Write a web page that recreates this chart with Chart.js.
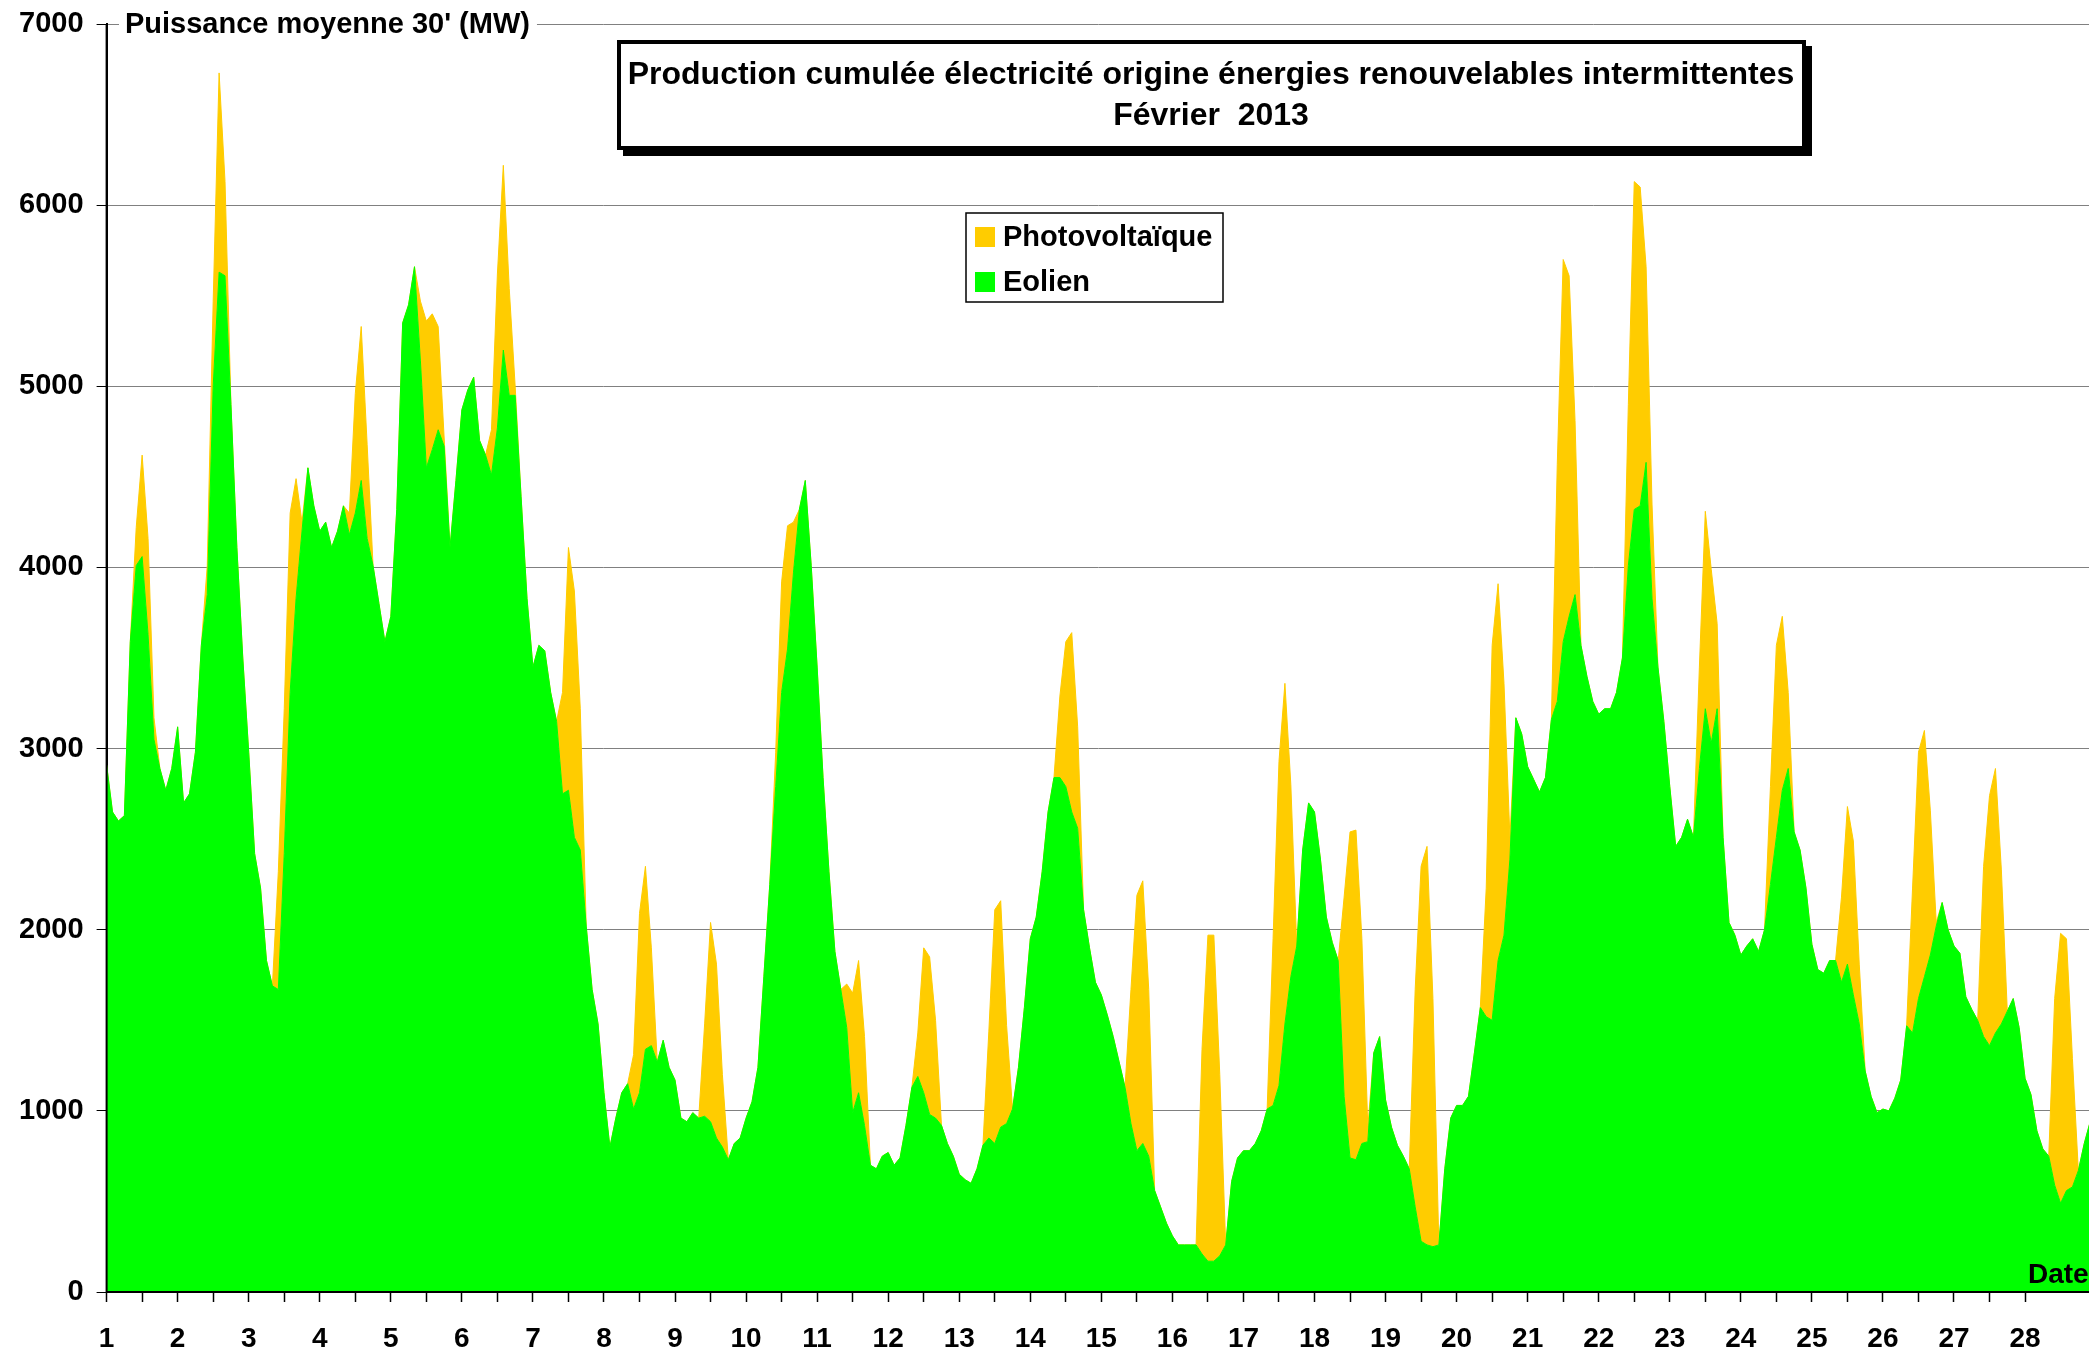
<!DOCTYPE html>
<html>
<head>
<meta charset="utf-8">
<title>Production cumulée électricité - Février 2013</title>
<script src="https://cdn.jsdelivr.net/npm/chart.js@4.4.1/dist/chart.umd.min.js"></script>
<style>
  html, body { margin: 0; padding: 0; background: #fff; }
  #wrap { width: 2089px; height: 1355px; }
</style>
</head>
<body>
<div id="wrap"><canvas id="chart" width="2089" height="1355"></canvas></div>
<script>
// jours de fevrier 2013 et heures relevees (un point toutes les 2 h)
const days = [1,2,3,4,5,6,7,8,9,10,11,12,13,14,15,16,17,18,19,20,21,22,23,24,25,26,27,28];
const hours = [0,2,4,6,8,10,12,14,16,18,20,22];
const yTicks = [0,1000,2000,3000,4000,5000,6000,7000];

const titleLines = ["Production cumulée électricité origine énergies renouvelables intermittentes", "Février  2013"];
const axisTitle = "Puissance moyenne 30' (MW)";
const xTitle = "Date";

// Eolien (MW), 12 valeurs par jour (0h..22h), dernier point = 1er mars 0h
const eolien = [
  2910, 2650, 2600, 2630, 3590, 4010, 4060, 3630, 3050, 2890, 2770, 2890, // 1
  3120, 2700, 2750, 2980, 3570, 3850, 5000, 5630, 5610, 4900, 4110, 3500, // 2
  2980, 2420, 2230, 1830, 1690, 1670, 2420, 3310, 3830, 4200, 4550, 4340, // 3
  4200, 4250, 4110, 4200, 4340, 4180, 4300, 4480, 4160, 4010, 3800, 3590, // 4
  3730, 4320, 5350, 5450, 5660, 5140, 4550, 4650, 4760, 4670, 4110, 4480, // 5
  4870, 4980, 5050, 4700, 4620, 4510, 4770, 5200, 4950, 4950, 4390, 3830, // 6
  3450, 3570, 3540, 3310, 3150, 2750, 2770, 2510, 2440, 2020, 1670, 1480, // 7
  1100,  800,  960, 1100, 1150, 1010, 1100, 1340, 1360, 1270, 1390, 1240, // 8
  1170,  960,  940,  990,  960,  970,  940,  850,  800,  730,  820,  850, // 9
   960, 1050, 1240, 1740, 2250, 2790, 3310, 3550, 3970, 4320, 4480, 4010, // 10
  3450, 2840, 2320, 1880, 1670, 1460,  990, 1100,  920,  700,  680,  750, // 11
   770,  700,  740,  920, 1130, 1190, 1100,  980,  960,  920,  820,  750, // 12
   650,  620,  600,  680,  810,  850,  820,  910,  930, 1010, 1240, 1570, // 13
  1950, 2070, 2320, 2650, 2840, 2840, 2790, 2650, 2560, 2110, 1900, 1710, // 14
  1640, 1530, 1410, 1270, 1130,  930,  780,  820,  750,  560,  470,  380, // 15
   310,  260,  260,  260,  260,  210,  170,  170,  200,  260,  610,  740, // 16
   780,  780,  820,  890, 1010, 1030, 1140, 1480, 1740, 1910, 2440, 2700, // 17
  2650, 2390, 2070, 1930, 1830, 1080,  740,  730,  820,  830, 1320, 1410, // 18
  1060,  910,  810,  750,  680,  470,  280,  260,  250,  260,  680,  960, // 19
  1030, 1030, 1080, 1320, 1570, 1520, 1500, 1830, 1970, 2390, 3170, 3080, // 20
  2900, 2830, 2760, 2840, 3160, 3260, 3590, 3730, 3850, 3570, 3400, 3260, // 21
  3190, 3220, 3220, 3310, 3500, 4010, 4320, 4340, 4580, 3830, 3450, 3150, // 22
  2790, 2460, 2510, 2610, 2510, 2890, 3220, 3030, 3220, 2510, 2040, 1970, // 23
  1860, 1910, 1950, 1880, 2000, 2250, 2510, 2770, 2890, 2540, 2440, 2230, // 24
  1920, 1780, 1760, 1830, 1830, 1710, 1810, 1640, 1480, 1220, 1080,  990, // 25
  1010, 1000, 1070, 1170, 1470, 1430, 1620, 1740, 1860, 2020, 2150, 2000, // 26
  1910, 1870, 1630, 1560, 1500, 1410, 1360, 1430, 1480, 1550, 1620, 1460, // 27
  1180, 1090,  890,  790,  750,  590,  490,  560,  580,  670,  820,  940, // 28
  1050
];

// Photovoltaique (MW) empile au-dessus de l'eolien, memes instants
const pv = [
  0,0,0,0,0,  210,  560,  530,  120,   0, 0,0, // 1
  0,0,0,0,0,  160,  470, 1100,  520,   0, 0,0, // 2
  0,0,0,0,0,  650,  800,  990,  660,  50, 0,0, // 3
  0,0,0,0,0,  120,  660,  850,  520,   0, 0,0, // 4
  0,0,0,0,0,  330,  810,  750,  570,  50, 0,0, // 5
  0,0,0,0,0,  250,  850, 1020,  590,  50, 0,0, // 6
  0,0,0,0,0,  560, 1340, 1360,  780,   0, 0,0, // 7
  0,0,0,0,0,  300,  990, 1010,  540,   0, 0,0, // 8
  0,0,0,0,0,  510, 1100,  960,  400,   0, 0,0, // 9
  0,0,0,0,0,  190,  610,  680,  280,   0, 0,0, // 10
  0,0,0,0,0,  240,  660,  730,  490,   0, 0,0, // 11
  0,0,0,0,0,  240,  800,  870,  540,   0, 0,0, // 12
  0,0,0,0,0,  590, 1290, 1250,  540,   0, 0,0, // 13
  0,0,0,0,0,  450,  800,  990,  560,   0, 0,0, // 14
  0,0,0,0,0,  740, 1410, 1450,  920,   0, 0,0, // 15
  0,0,0,0,0, 1130, 1800, 1800, 1000,   0, 0,0, // 16
  0,0,0,0,0,  920, 1790, 1880, 1060,   0, 0,0, // 17
  0,0,0,0,0, 1100, 1800, 1820, 1130,  80, 0,0, // 18
  0,0,0,0,0, 1200, 2070, 2200, 1370,   0, 0,0, // 19
  0,0,0,0,0,  710, 2070, 2080, 1390, 120, 0,0, // 20
  0,0,0,0,0, 1310, 2110, 1880,  960,   0, 0,0, // 21
  0,0,0,0,0,  890, 1810, 1760, 1080, 520, 0,0, // 22
  0,0,0,0,0,  560, 1090,  960,  470,   0, 0,0, // 23
  0,0,0,0,0,  540, 1060,  960,  420,   0, 0,0, // 24
  0,0,0,0,0,  470,  870,  850,  330,   0, 0,0, // 25
  0,0,0,0,0,  800, 1360, 1360,  800,  20, 0,0, // 26
  0,0,0,0,0,  940, 1380, 1460,  850,   0, 0,0, // 27
  0,0,0,0,0, 1030, 1490, 1390,  710,   0, 0,0, // 28
  0
];

const GREEN = "#00FF00";
const ORANGE = "#FFCC00";
const FONT = '"Liberation Sans", Arial, Helvetica, sans-serif';
const X_MAX = 28.9;

// met les valeurs sur l'axe des jours
function makePoints(vals) {
    let pts = [];
    let k = 0;
    days.forEach(d => {
        hours.forEach(h => {
            pts.push({x: d + h / 24, y: vals[k]});
            k++;
        });
    });
    pts.push({x: days[days.length - 1] + 1, y: vals[k]});
    return pts;
}

// cadre du titre, legende, titres des axes
const decor = {
    id: "decor",
    afterDraw(chart) {
        const ctx = chart.ctx;
        const a = chart.chartArea;
        ctx.save();

        // axes par-dessus les aires
        ctx.strokeStyle = "#000";
        ctx.lineWidth = 2;
        ctx.beginPath();
        ctx.moveTo(a.left, a.top);
        ctx.lineTo(a.left, a.bottom);
        ctx.lineTo(a.right, a.bottom);
        ctx.stroke();

        // titre de l'axe Y pose sur la ligne 7000
        ctx.font = "bold 29px " + FONT;
        let tw = ctx.measureText(axisTitle).width;
        ctx.fillStyle = "#fff";
        ctx.fillRect(119, a.top - 16, tw + 13, 32);
        ctx.fillStyle = "#000";
        ctx.textAlign = "left";
        ctx.textBaseline = "middle";
        ctx.fillText(axisTitle, 125, a.top + 1);

        // cadre du titre avec ombre
        ctx.fillStyle = "#000";
        ctx.fillRect(623, 46, 1189, 110);
        ctx.fillStyle = "#fff";
        ctx.fillRect(617, 40, 1189, 110);
        ctx.lineWidth = 4;
        ctx.strokeStyle = "#000";
        ctx.strokeRect(619, 42, 1185, 106);
        ctx.fillStyle = "#000";
        ctx.font = "bold 32px " + FONT;
        ctx.textAlign = "center";
        ctx.fillText(titleLines[0], 1211, 75);
        ctx.fillText(titleLines[1], 1211, 116);

        // legende
        ctx.fillStyle = "#fff";
        ctx.fillRect(966, 213, 257, 89);
        ctx.lineWidth = 1.5;
        ctx.strokeStyle = "#000";
        ctx.strokeRect(966, 213, 257, 89);
        const items = [
            {label: chart.data.datasets[1].label, color: ORANGE, y: 237},
            {label: chart.data.datasets[0].label, color: GREEN, y: 282}
        ];
        ctx.font = "bold 29px " + FONT;
        ctx.textAlign = "left";
        items.forEach(it => {
            ctx.fillStyle = it.color;
            ctx.fillRect(975, it.y - 10, 20, 20);
            ctx.fillStyle = "#000";
            ctx.fillText(it.label, 1003, it.y + 1);
        });

        // titre de l'axe X
        ctx.font = "bold 28px " + FONT;
        ctx.textBaseline = "alphabetic";
        ctx.fillText(xTitle, 2028, 1283);

        ctx.restore();
    }
};

new Chart(document.getElementById("chart"), {
    type: "line",
    data: {
        datasets: [
            {
                label: "Eolien",
                data: makePoints(eolien),
                backgroundColor: GREEN,
                borderColor: GREEN,
                borderWidth: 1,
                fill: "origin",
                pointRadius: 0,
                tension: 0
            },
            {
                label: "Photovoltaïque",
                data: makePoints(pv),
                backgroundColor: ORANGE,
                borderColor: ORANGE,
                borderWidth: 1,
                fill: "-1",
                pointRadius: 0,
                tension: 0
            }
        ]
    },
    options: {
        responsive: false,
        animation: false,
        devicePixelRatio: 1,
        layout: {padding: {top: 24, right: 0, left: 0, bottom: 0}},
        plugins: {
            legend: {display: false},
            title: {display: false},
            tooltip: {enabled: false}
        },
        scales: {
            x: {
                type: "linear",
                min: days[0],
                max: X_MAX,
                ticks: {
                    stepSize: 0.5,
                    autoSkip: false,
                    maxRotation: 0,
                    padding: 20,
                    color: "#000",
                    font: {family: FONT, size: 28, weight: "bold"},
                    callback: v => Math.abs(v - Math.round(v)) < 1e-6 && days.includes(Math.round(v)) ? String(Math.round(v)) : ""
                },
                grid: {drawOnChartArea: false, tickLength: 10, tickColor: "#000", tickWidth: 1.5},
                border: {color: "#000", width: 2},
                afterBuildTicks: s => {
                    s.ticks = s.ticks.filter(t => Math.abs(t.value * 2 - Math.round(t.value * 2)) < 1e-6);
                },
                afterFit: s => { s.height = 63; }
            },
            y: {
                stacked: true,
                min: yTicks[0],
                max: yTicks[yTicks.length - 1],
                ticks: {
                    stepSize: 1000,
                    padding: 13,
                    color: "#000",
                    font: {family: FONT, size: 29, weight: "bold", lineHeight: 0.75},
                    callback: v => String(v)
                },
                grid: {color: "#808080", lineWidth: 1, tickColor: "#000", tickLength: 10},
                border: {color: "#000", width: 2},
                afterFit: s => { s.width = 106.6; }
            }
        }
    },
    plugins: [decor]
});
</script>
</body>
</html>
